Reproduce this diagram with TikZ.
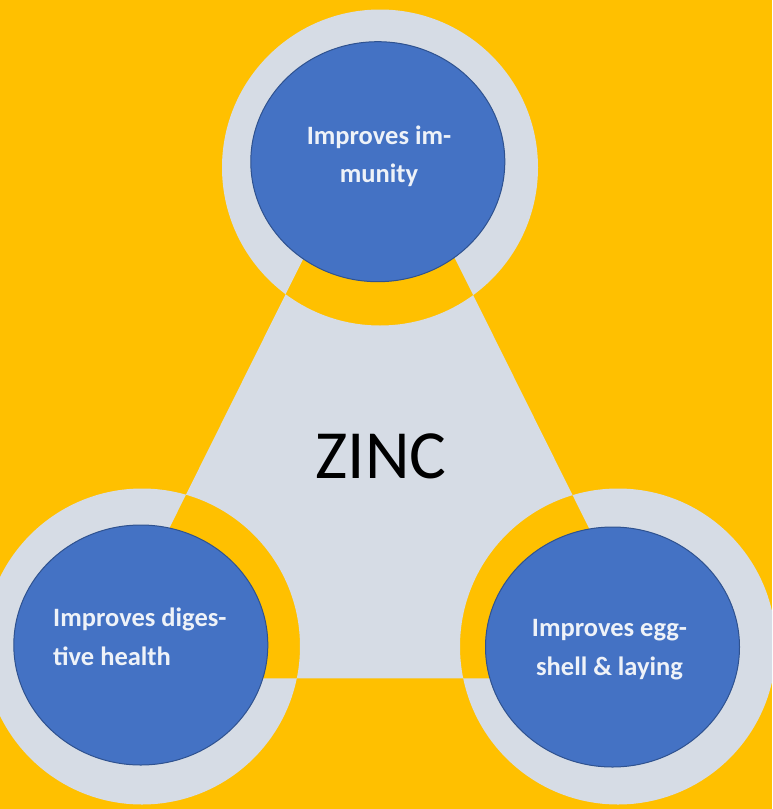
\documentclass[tikz,border=0pt]{standalone}
\usepackage{fontspec}
\setmainfont{Carlito}
\usetikzlibrary{shapes.geometric}
\definecolor{bg}{HTML}{FFC000}
\definecolor{ring}{HTML}{D6DCE5}
\definecolor{blobfill}{HTML}{4472C4}
\definecolor{blobline}{HTML}{2F528F}
\definecolor{txt}{HTML}{EEF2F8}
\begin{document}
\begin{tikzpicture}[x=1pt,y=-1pt,
  blobnode/.style={ellipse, fill=blobfill, draw=blobline, line width=1pt,
    minimum width=254pt, minimum height=240pt, inner sep=0pt},
  lbl/.style={text=txt, font=\fontsize{26.5}{38.5}\selectfont\bfseries,
    align=center, anchor=base, inner sep=0pt},
  bigtxt/.style={text=black, font=\fontsize{69}{69}\selectfont, anchor=base, inner sep=0pt}]
\useasboundingbox (0,0) rectangle (772,809);
\fill[bg] (0,0) rectangle (772,809);
\begin{scope}
  \clip (0,0) rectangle (772,809);
  \fill[ring, even odd rule]
    (379.2,106) -- (94.7,678.3) -- (663.6,678.3) -- cycle
    (380,167.5) circle[radius=158]
    (142,646.5) circle[radius=158]
    (618,646.5) circle[radius=158];
\end{scope}
\node[blobnode] (topc) at (377.8,161.7) {};
\node[blobnode] (leftc) at (140.8,645) {};
\node[blobnode] (rightc) at (612.5,647) {};
\node[lbl] (toptxt) at (379,182.7) {Improves im-\\munity};
\node[lbl, align=left, anchor=base west] (lefttxt) at (53,665) {Improves diges-\\tive health};
\node[lbl] (righttxt) at (609.5,675) {Improves egg-\\shell \& laying};
\node[bigtxt] (zinc) at (381,478.3) {ZINC};
\end{tikzpicture}
\end{document}
